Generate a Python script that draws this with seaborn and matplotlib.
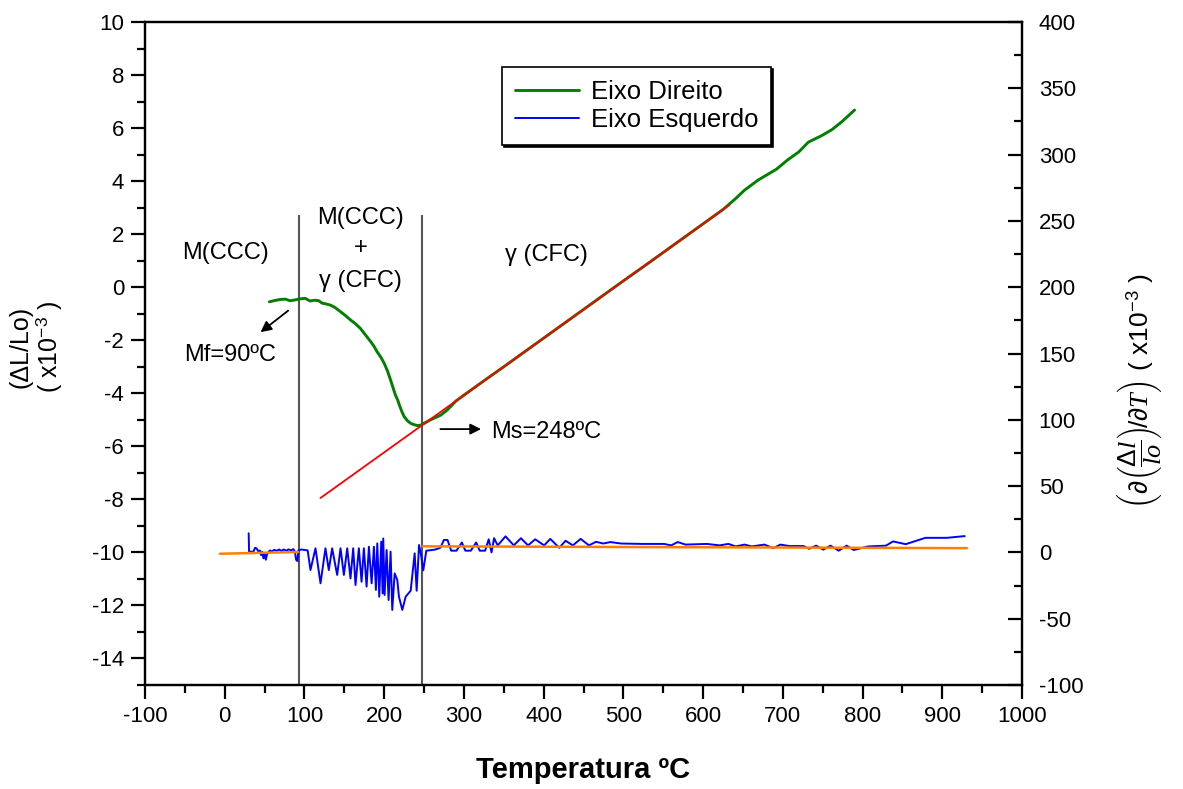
import matplotlib
matplotlib.use("Agg")
import matplotlib.pyplot as plt
from matplotlib.ticker import MultipleLocator
from matplotlib.lines import Line2D
import seaborn as sns
import pandas as pd

# Dilatometric curve, delta L / Lo (x10^-3) vs temperature (left axis)
dil_temp = [56, 63, 70, 76, 82, 88, 94, 101, 107, 113, 118, 122, 127, 133, 139,
            145, 151, 158, 164, 170, 176, 183, 187, 191, 196, 200, 204, 208, 211,
            214, 217, 219, 222, 225, 229, 233, 237, 242, 246, 250, 254, 258, 264,
            271, 279, 290, 300, 325, 350, 375, 400, 425, 450, 475, 500, 525, 550,
            575, 600, 625, 640, 652, 669, 692, 706, 720, 732, 749, 762, 774, 790]
dil_val = [-0.55, -0.50, -0.46, -0.45, -0.51, -0.48, -0.44, -0.42, -0.52, -0.49,
           -0.51, -0.60, -0.63, -0.68, -0.78, -0.92, -1.06, -1.24, -1.38, -1.55,
           -1.78, -2.05, -2.22, -2.43, -2.65, -2.87, -3.15, -3.50, -3.78, -4.06,
           -4.26, -4.44, -4.68, -4.88, -5.03, -5.13, -5.18, -5.22, -5.20, -5.13,
           -5.07, -5.00, -4.92, -4.82, -4.63, -4.29, -4.07, -3.53, -3.00, -2.46,
           -1.92, -1.38, -0.84, -0.30, 0.24, 0.77, 1.31, 1.85, 2.39, 2.93, 3.32,
           3.66, 4.04, 4.45, 4.80, 5.10, 5.47, 5.72, 5.95, 6.24, 6.68]

# Linear fit of the austenite branch
fit_temp = [120, 633]
fit_val = [-7.95, 3.10]

# Derivative d(dL/Lo)/dT (x10^-3), right axis
der_temp = [30, 30.5, 36, 38, 40, 42, 44, 45.5, 47, 48.5, 50, 51.5, 53, 55, 57,
            59, 62, 65, 68, 71, 74, 77, 80, 83, 86, 88, 89.5, 91, 92.5, 96, 101,
            104, 107.5, 113.8, 120.1, 126.3, 130.5, 134.7, 141.0, 145.2, 149.4,
            153.6, 157.7, 161.1, 164.0, 168.2, 171.6, 174.5, 177.9, 180.8, 184.2,
            187.1, 189.6, 191.3, 193.8, 196.3, 198.0, 198.8, 200.5, 203.0, 205.5,
            208.0, 210.1, 213.1, 216.4, 218.5, 222.7, 226.9, 233.2, 238.2, 240.7,
            243.7, 246, 249, 252.8, 263.7, 270.4, 274.9, 279.4, 284.0, 290.7,
            297.4, 301.8, 308.6, 315.4, 319.8, 326.6, 331.1, 334.6, 337.8, 342.3,
            352.2, 362.5, 371.5, 380.4, 389.4, 400.6, 408.3, 419.5, 427.5, 436.6,
            446.4, 456.8, 465.7, 474.7, 483.7, 497.2, 524.1, 551.1, 560.0, 568.1,
            578.0, 604.9, 620.6, 631.8, 640.9, 652.0, 661.1, 676.8, 688.0, 696.9,
            708.2, 726.1, 732.9, 741.8, 750.8, 759.8, 770.1, 780.0, 789.0, 806.9,
            829.4, 838.3, 854.1, 878.8, 905.7, 928.2]
der_val = [14.4, 0.6, 0.6, 3.5, 3.0, 0.8, 1.5, -2.0, 0.5, -4.5, -0.5, -5.5, -1.5,
           0.5, 1.5, 0.5, 2.0, 1.2, 2.2, 1.2, 2.2, 1.3, 2.3, 1.5, 2.5, 0.5, -5.5,
           -6.5, 1.5, 2.2, 1.8, 1.5, -13.3, 3.1, -23.3, 3.1, -13.3, 3.1, -17.0,
           3.1, -17.0, 3.1, -19.6, 3.1, -24.6, 3.1, -22.1, 3.1, -25.8, 4.3, -23.3,
           4.3, -28.3, 6.8, -33.4, 8.1, -30.9, 10.5, -32.1, 1.8, -35.9, 0.6,
           -43.4, -15.8, -20.8, -33.4, -43.4, -33.4, -28.9, -0.7, -28.9, 5.6,
           -1.0, -13.5, 1.3, 2.1, 3.5, 9.4, 9.4, 1.3, 1.3, 7.5, 1.3, 1.3, 7.5,
           1.3, 1.3, 9.9, 0.0, 10.7, 5.3, 12.1, 5.3, 10.7, 5.3, 9.9, 5.3, 10.2,
           3.5, 8.8, 5.3, 10.2, 5.3, 8.0, 6.7, 7.8, 6.7, 6.4, 6.4, 5.3, 7.8, 5.9,
           6.4, 5.3, 6.4, 4.5, 5.9, 4.5, 5.9, 3.2, 5.9, 4.8, 4.8, 2.7, 5.1, 2.1,
           5.1, 1.3, 5.1, 1.8, 4.5, 5.1, 8.3, 6.2, 11.0, 11.0, 12.3]

# Baselines of the derivative below Mf and above Ms
base1_temp = [-6, 92]
base1_val = [-1.0, 0.3]
base2_temp = [248, 931]
base2_val = [4.6, 3.2]

# Transformation temperatures marked by vertical lines
mf_line = 92.5
ms_line = 248

x_ticks = list(range(-100, 1001, 100))
left_ticks = list(range(-14, 11, 2))
right_ticks = list(range(-100, 401, 50))

sns.set_style("ticks")
plt.rcParams["font.family"] = ["Liberation Sans", "DejaVu Sans"]
plt.rcParams["mathtext.fontset"] = "custom"
plt.rcParams["mathtext.rm"] = "Liberation Sans"
plt.rcParams["mathtext.it"] = "Liberation Serif:italic"
plt.rcParams["mathtext.bf"] = "Liberation Sans:bold"
for key in ("text.color", "axes.labelcolor", "xtick.color", "ytick.color",
            "axes.edgecolor"):
    plt.rcParams[key] = "black"

fig = plt.figure(figsize=(11.83, 7.89), dpi=100)
ax = fig.add_axes([0.1226, 0.1318, 0.7413, 0.8403])
ax2 = ax.twinx()

green = "#008000"
blue = "#0000FF"
red = "#FF0000"
orange = "#FF8000"
grey = "#555555"

dil = pd.DataFrame({"T": dil_temp, "v": dil_val})
fit = pd.DataFrame({"T": fit_temp, "v": fit_val})
der = pd.DataFrame({"T": der_temp, "v": der_val})
b1 = pd.DataFrame({"T": base1_temp, "v": base1_val})
b2 = pd.DataFrame({"T": base2_temp, "v": base2_val})

ax.vlines([mf_line, ms_line], -15, 2.72, colors=grey, linewidth=1.5, zorder=1)
sns.lineplot(data=dil, x="T", y="v", ax=ax, color=green, linewidth=2.1,
             estimator=None, sort=False, zorder=3)
sns.lineplot(data=fit, x="T", y="v", ax=ax, color=red, linewidth=1.3,
             estimator=None, sort=False, zorder=4)

sns.lineplot(data=der, x="T", y="v", ax=ax2, color=blue, linewidth=1.4,
             estimator=None, sort=False, zorder=3)
sns.lineplot(data=b1, x="T", y="v", ax=ax2, color=orange, linewidth=1.8,
             estimator=None, sort=False, zorder=4)
sns.lineplot(data=b2, x="T", y="v", ax=ax2, color=orange, linewidth=1.8,
             estimator=None, sort=False, zorder=4)

ax.set_xlim(-100, 1000)
ax.set_ylim(-15, 10)
ax2.set_ylim(-100, 400)
ax.set_xticks(x_ticks)
ax.set_xticklabels([str(t) for t in x_ticks])
ax.set_yticks(left_ticks)
ax.set_yticklabels([str(t) for t in left_ticks])
ax2.set_yticks(right_ticks)
ax2.set_yticklabels([str(t) for t in right_ticks])
ax.xaxis.set_minor_locator(MultipleLocator(50))
ax.yaxis.set_minor_locator(MultipleLocator(1))
ax2.yaxis.set_minor_locator(MultipleLocator(25))

for a in (ax, ax2):
    a.set_xlabel("")
    a.set_ylabel("")
    for s in a.spines.values():
        s.set_visible(True)
        s.set_color("black")
        s.set_linewidth(1.6)

ax.tick_params(axis="both", which="major", direction="out", length=10,
               width=1.6, labelsize=16, pad=5, colors="black")
ax.tick_params(axis="both", which="minor", direction="out", length=6,
               width=1.6)
ax2.tick_params(axis="y", which="major", direction="in", length=10,
                width=1.6, labelsize=16, pad=12, colors="black")
ax2.tick_params(axis="y", which="minor", direction="in", length=6, width=1.6)

# Phase field labels
ax.text(0.6, 1.28, "M(CCC)", fontsize=17, ha="center", va="center")
ax.text(170, 2.6, "M(CCC)", fontsize=17, ha="center", va="center")
ax.text(170, 1.48, "+", fontsize=17, ha="center", va="center")
ax.text(170, 0.23, "γ (CFC)", fontsize=17, ha="center", va="center")
ax.text(403, 1.21, "γ (CFC)", fontsize=17, ha="center", va="center")

# Transformation temperatures
ax.annotate("", xy=(42.1, -1.76), xytext=(82.3, -0.82),
            arrowprops=dict(arrowstyle="-|>", color="black", lw=1.3,
                            mutation_scale=16))
ax.text(7.0, -2.56, "Mf=90ºC", fontsize=17, ha="center", va="center")
ax.annotate("", xy=(325, -5.35), xytext=(267, -5.35),
            arrowprops=dict(arrowstyle="-|>", color="black", lw=1.3,
                            mutation_scale=16))
ax.text(334, -5.46, "Ms=248ºC", fontsize=17, ha="left", va="center")

handles = [Line2D([], [], color=green, linewidth=2.1),
           Line2D([], [], color=blue, linewidth=1.4)]
leg = ax2.legend(handles, ["Eixo Direito", "Eixo Esquerdo"], loc="upper left",
                 bbox_to_anchor=(0.407, 0.932), borderaxespad=0,
                 fontsize=18.5, frameon=True, fancybox=False,
                 shadow={"color": "black", "alpha": 1, "ox": 1.5, "oy": -1.5},
                 handlelength=2.5, handletextpad=0.45, borderpad=0.5,
                 labelspacing=0.15)
leg.get_frame().set_edgecolor("black")
leg.get_frame().set_linewidth(1.2)

fig.text(583 / 1183, 1 - 770 / 789, "Temperatura ºC", fontsize=21,
         fontweight="bold", ha="center", va="center")
fig.text(36 / 1183, 1 - 347 / 789, "(ΔL/Lo)\n( x10$^{-3}$ )", fontsize=18,
         rotation=90, ha="center", va="center", linespacing=1.05)
fig.text(1140 / 1183, 1 - 391 / 789,
         r"$\left(\partial\left(\dfrac{\Delta l}{lo}\right)\!/\partial T\right)$"
         " ( x10$^{-3}$ )",
         fontsize=19, rotation=90, ha="center", va="center")

fig.savefig("out.png", dpi=100)
